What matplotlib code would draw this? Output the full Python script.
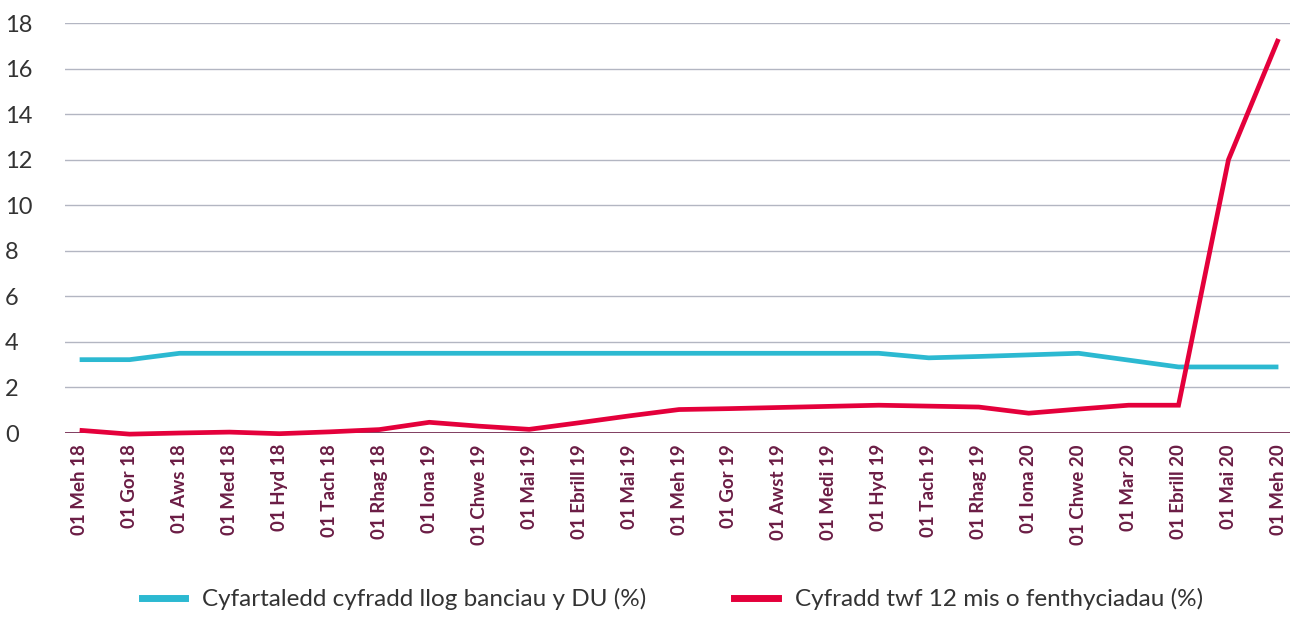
import matplotlib
matplotlib.use("Agg")
import matplotlib.pyplot as plt
from matplotlib.lines import Line2D

categories = ["01 Meh 18", "01 Gor 18", "01 Aws 18", "01 Med 18", "01 Hyd 18", "01 Tach 18",
              "01 Rhag 18", "01 Iona 19", "01 Chwe 19", "01 Mai 19", "01 Ebrill 19", "01 Mai 19",
              "01 Meh 19", "01 Gor 19", "01 Awst 19", "01 Medi 19", "01 Hyd 19", "01 Tach 19",
              "01 Rhag 19", "01 Iona 20", "01 Chwe 20", "01 Mar 20", "01 Ebrill 20", "01 Mai 20",
              "01 Meh 20"]
interest_rate = [3.22, 3.22, 3.5, 3.5, 3.5, 3.5, 3.5, 3.5, 3.5, 3.5, 3.5, 3.5, 3.5, 3.5, 3.5,
                 3.5, 3.5, 3.3, 3.36, 3.43, 3.5, 3.2, 2.9, 2.9, 2.9]
lending_growth = [0.12, -0.05, 0.0, 0.04, -0.03, 0.05, 0.15, 0.47, 0.3, 0.16, 0.45, 0.75,
                  1.03, 1.07, 1.12, 1.17, 1.22, 1.18, 1.14, 0.87, 1.05, 1.22, 1.22, 12.0, 17.3]
yticks = [0, 2, 4, 6, 8, 10, 12, 14, 16, 18]
series_names = ["Cyfartaledd cyfradd llog banciau y DU (%)", "Cyfradd twf 12 mis o fenthyciadau (%)"]

BLUE = "#2cb9d1"
RED = "#e4003b"
PURPLE = "#6b1d45"
GRID = "#b3b6c2"

plt.rcParams['font.family'] = ['Lato', 'DejaVu Sans']

fig = plt.figure(figsize=(12.93, 6.29), dpi=100)
ax = fig.add_axes([0.050, 0.3116, 0.948, 0.6518])

x = list(range(len(categories)))
ax.plot(x, interest_rate, color=BLUE, lw=3.4, solid_capstyle='butt', zorder=3)
ax.plot(x, lending_growth, color=RED, lw=3.4, solid_capstyle='butt', solid_joinstyle='miter',
        zorder=4, clip_on=False)

ax.set_xlim(-0.3, 24.24)
ax.set_ylim(0, 18)
ax.set_yticks(yticks)
ax.set_yticklabels([str(v) for v in yticks], fontsize=17, color="#333333")
ax.set_xticks(x)
ax.set_xticklabels(categories, rotation=90, fontsize=13.5, color=PURPLE, fontweight='bold')
ax.tick_params(axis='both', length=0)
ax.tick_params(axis='y', pad=43)
ax.tick_params(axis='x', pad=8)
for lab in ax.get_yticklabels():
    lab.set_horizontalalignment('left')

for v in yticks[1:]:
    ax.axhline(v, color=GRID, lw=1.0, zorder=1)
ax.axhline(0, color=PURPLE, lw=1.2, zorder=2)

for s in ax.spines.values():
    s.set_visible(False)

handles = [Line2D([], [], color=BLUE, lw=5), Line2D([], [], color=RED, lw=5)]
fig.legend(handles, series_names, loc='lower center', bbox_to_anchor=(0.52, -0.005), ncol=2,
           frameon=False, fontsize=17.5, handlelength=1.8, columnspacing=3.6, handletextpad=0.7,
           labelcolor="#333333")

fig.savefig("out.png", dpi=100)
